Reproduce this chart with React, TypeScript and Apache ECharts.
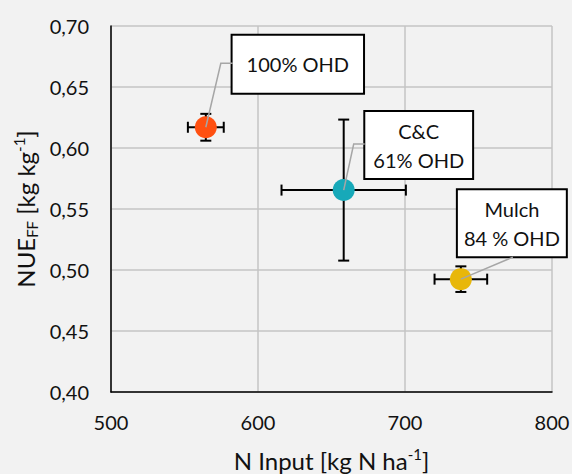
import React, { useEffect, useRef } from "react";
import * as echarts from "echarts";

// ---- data ----
const treatments = ["100% OHD", "C&C\n61% OHD", "Mulch\n84 % OHD"];
const nInput = [564.5, 658.3, 738.0];
const nue = [0.617, 0.5655, 0.4925];
const nInputErr = [12.2, 42.3, 17.9];
const nueErr = [0.011, 0.0578, 0.0105];
const pointColors = ["#FF5011", "#17A9B9", "#E8B70A"];
const xRange = [500, 800];
const xStep = 100;
const yRange = [0.4, 0.7];
const yStep = 0.05;

// ---- label placement (pixel offsets from point centre; styling only) ----
const labelOffsets: [number, number][] = [
  [92, -63],
  [75, -45],
  [51, -56],
];
const labelPadding: [number, number][] = [
  [14, 14],
  [4, 8],
  [4, 6],
];
const leaderPaths: [number, number][][] = [
  [[15, -64], [27, -64]],
  [[10, -46], [21, -46]],
  [[52, -22]],
];

const FONT = "Lato, 'Liberation Sans', sans-serif";
const TXT = "#111111";

export default function App() {
  const ref = useRef<HTMLDivElement>(null);
  useEffect(() => {
    if (!ref.current) return;
    const chart = echarts.init(ref.current, undefined, { renderer: "svg" });

    const errData = nInput.map((x, i) => [x, nue[i], nInputErr[i], nueErr[i]]);
    const scatterData = nInput.map((x, i) => ({
      name: treatments[i],
      value: [x, nue[i]],
      itemStyle: { color: pointColors[i], opacity: 1 },
      label: {
        offset: labelOffsets[i],
        padding: labelPadding[i],
      },
    }));
    const leaderData = nInput.map((x, i) => [x, nue[i], i]);

    chart.setOption({
      animation: false,
      backgroundColor: "#F2F2F2",
      textStyle: { fontFamily: FONT },
      grid: {
        left: 111,
        right: 20,
        top: 26,
        bottom: 82,
        containLabel: false,
        outerBoundsMode: "none",
      },
      xAxis: {
        type: "value",
        min: xRange[0],
        max: xRange[1],
        interval: xStep,
        axisLine: { show: true, onZero: false, lineStyle: { color: "#000", width: 1.5 } },
        axisTick: { show: false },
        splitLine: { show: true, lineStyle: { color: "#C4C4C4", width: 1.5 } },
        axisLabel: { fontSize: 20, color: TXT, margin: 20, fontFamily: FONT },
        name: "N Input [kg N ha{sup|-1}]",
        nameLocation: "middle",
        nameMoveOverlap: false,
        nameGap: 54,
        nameTextStyle: {
          fontSize: 24,
          color: TXT,
          fontFamily: FONT,
          lineHeight: 28,
          rich: {
            sup: { fontSize: 15, lineHeight: 15, verticalAlign: "top", color: TXT, fontFamily: FONT },
          },
        },
      },
      yAxis: {
        type: "value",
        min: yRange[0],
        max: yRange[1],
        interval: yStep,
        axisLine: { show: true, onZero: false, lineStyle: { color: "#000", width: 1.5 } },
        axisTick: { show: false },
        splitLine: { show: true, lineStyle: { color: "#C4C4C4", width: 1.5 } },
        axisLabel: {
          fontSize: 20,
          color: TXT,
          margin: 22,
          fontFamily: FONT,
          formatter: (v: number) => v.toFixed(2).replace(".", ","),
        },
        name: "NUE{sub|FF} [kg kg{sup|-1}]",
        nameLocation: "middle",
        nameMoveOverlap: false,
        nameRotate: 90,
        nameGap: 72,
        nameTextStyle: {
          fontSize: 24,
          color: TXT,
          fontFamily: FONT,
          lineHeight: 28,
          rich: {
            sup: { fontSize: 15, lineHeight: 15, verticalAlign: "top", color: TXT, fontFamily: FONT },
            sub: { fontSize: 15, lineHeight: 15, verticalAlign: "bottom", color: TXT, fontFamily: FONT },
          },
        },
      },
      series: [
        {
          type: "custom",
          z: 1,
          silent: true,
          encode: { x: 0, y: 1 },
          data: errData,
          renderItem: (params: any, api: any) => {
            const x = api.value(0);
            const y = api.value(1);
            const ex = api.value(2);
            const ey = api.value(3);
            const l = api.coord([x - ex, y]);
            const r = api.coord([x + ex, y]);
            const t = api.coord([x, y + ey]);
            const b = api.coord([x, y - ey]);
            const cap = 5.5;
            const style = { stroke: "#000", lineWidth: 2, fill: null };
            return {
              type: "group",
              children: [
                { type: "line", shape: { x1: l[0], y1: l[1], x2: r[0], y2: r[1] }, style },
                { type: "line", shape: { x1: t[0], y1: t[1], x2: b[0], y2: b[1] }, style },
                { type: "line", shape: { x1: l[0], y1: l[1] - cap, x2: l[0], y2: l[1] + cap }, style },
                { type: "line", shape: { x1: r[0], y1: r[1] - cap, x2: r[0], y2: r[1] + cap }, style },
                { type: "line", shape: { x1: t[0] - cap, y1: t[1], x2: t[0] + cap, y2: t[1] }, style },
                { type: "line", shape: { x1: b[0] - cap, y1: b[1], x2: b[0] + cap, y2: b[1] }, style },
              ],
            };
          },
        },
        {
          type: "scatter",
          z: 2,
          symbol: "circle",
          symbolSize: 22,
          data: scatterData,
          itemStyle: { opacity: 1 },
          emphasis: { disabled: true },
          label: {
            show: true,
            position: "inside",
            formatter: (p: any) => p.name,
            fontSize: 20,
            lineHeight: 29,
            align: "center",
            color: TXT,
            fontFamily: FONT,
            backgroundColor: "#FFFFFF",
            borderColor: "#000",
            borderWidth: 2,
          },
        },
        {
          type: "custom",
          z: 3,
          silent: true,
          encode: { x: 0, y: 1 },
          data: leaderData,
          renderItem: (params: any, api: any) => {
            const c = api.coord([api.value(0), api.value(1)]);
            const idx = api.value(2);
            const pts = [[c[0], c[1]]].concat(
              leaderPaths[idx].map((o) => [c[0] + o[0], c[1] + o[1]])
            );
            return {
              type: "polyline",
              shape: { points: pts },
              style: { stroke: "#A6A6A6", lineWidth: 1.5, fill: null },
            };
          },
        },
      ],
    });
    return () => chart.dispose();
  }, []);
  return (
    <div
      ref={ref}
      style={{ position: "absolute", left: 0, top: 0, width: 572, height: 474 }}
    />
  );
}
